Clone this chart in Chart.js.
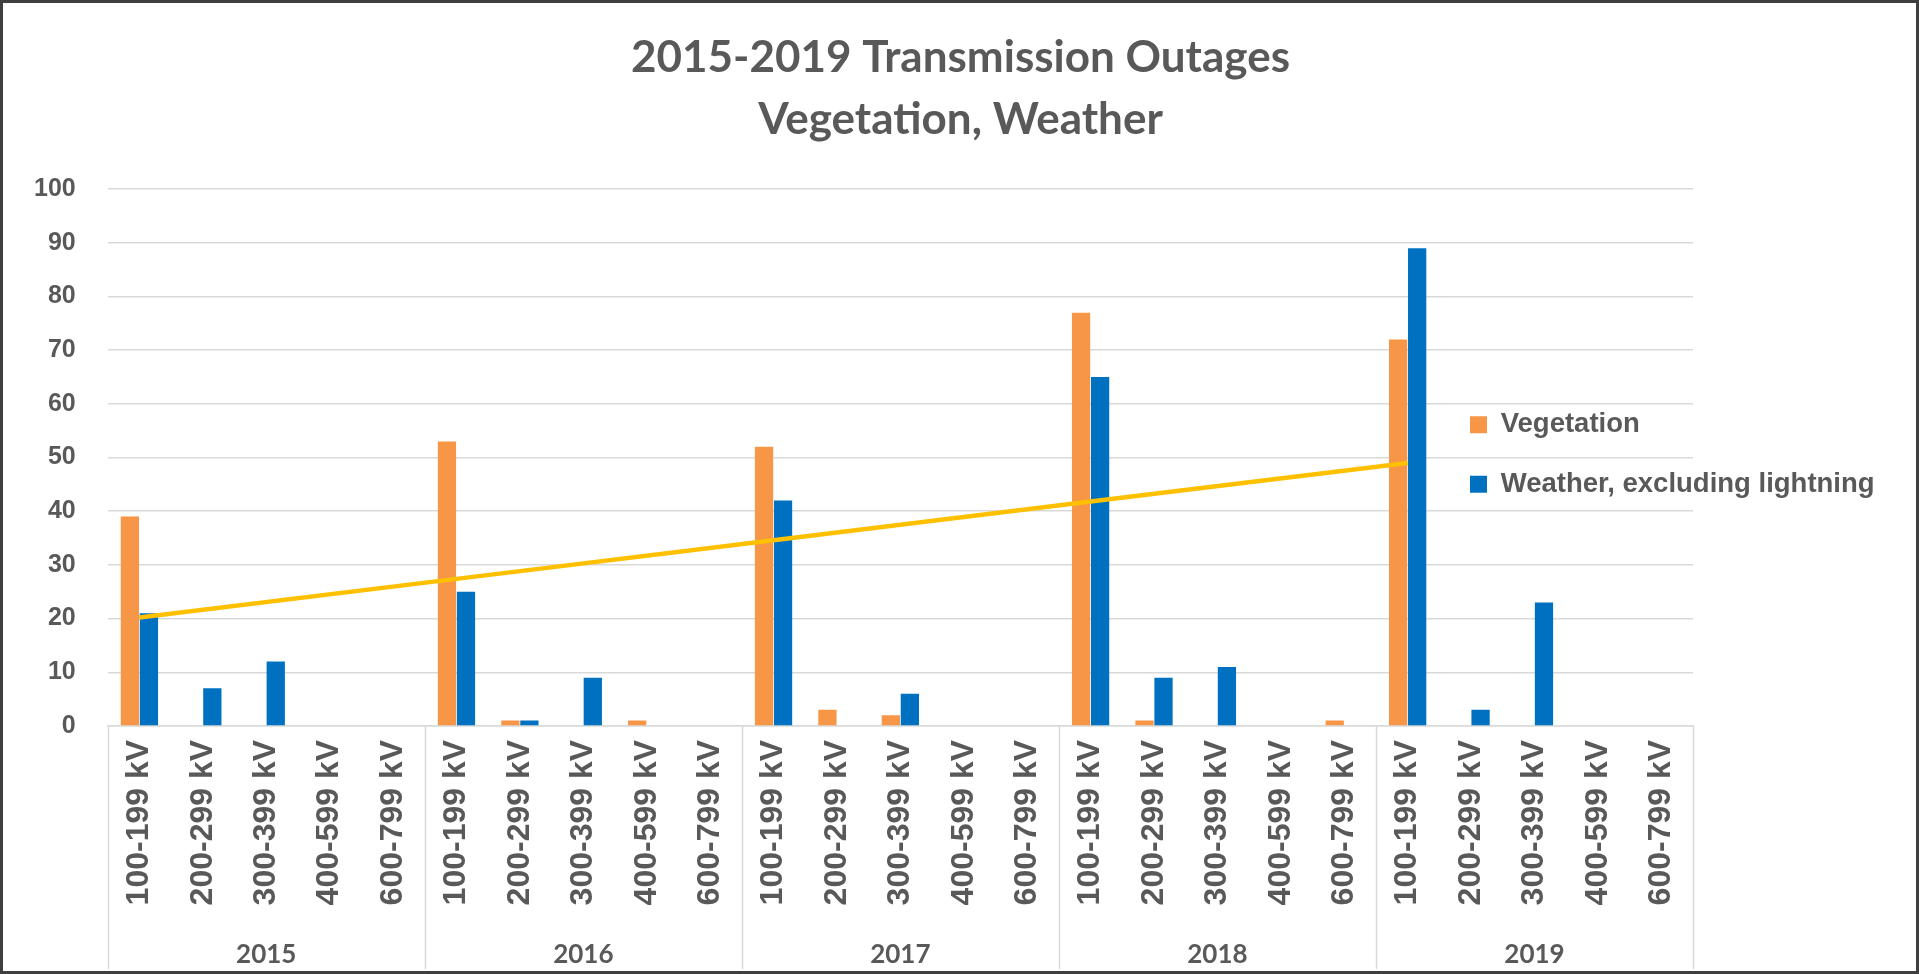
<!DOCTYPE html>
<html>
<head>
<meta charset="utf-8">
<title>2015-2019 Transmission Outages</title>
<script src="https://cdn.jsdelivr.net/npm/chart.js@4"></script>
<style>
  html, body { margin: 0; padding: 0; background: #fff; }
  #wrap { width: 1919px; height: 974px; position: relative; }
  #chartOutages { outline: 3px solid #3f3f3f; outline-offset: -3px; }
</style>
</head>
<body>
<div id="wrap"><canvas id="chartOutages"></canvas></div>
<script>
const years = ['2015', '2016', '2017', '2018', '2019']
const voltageBands = ['100-199 kV', '200-299 kV', '300-399 kV', '400-599 kV', '600-799 kV']

const vegetation = [39, 0, 0, 0, 0, 53, 1, 0, 1, 0, 52, 3, 2, 0, 0, 77, 1, 0, 0, 1, 72, 0, 0, 0, 0]
const weather = [21, 7, 12, 0, 0, 25, 1, 9, 0, 0, 42, 0, 6, 0, 0, 65, 9, 11, 0, 0, 89, 3, 23, 0, 0]
const trend = [20.2, null, null, null, null, 27.4, null, null, null, null, 34.6, null, null, null, null,
    41.8, null, null, null, null, 49.0, null, null, null, null]

const labels = years.flatMap(() => voltageBands)

const textGrey = '#595959'
const gridColor = '#d9d9d9'
const orange = '#F79646'
const blue = '#0070C0'
const gold = '#FFC000'

const ctx = document.getElementById('chartOutages')

// legend keeps its slot on the right but is drawn over the plot, like the Excel original
const legendInPlot = {
    id: 'legendInPlot',
    afterLayout(chart) {
        const lg = chart.legend
        const area = chart.chartArea
        lg.left = area.right - 223 - lg.options.labels.padding
        lg.width = 470
        lg.right = lg.left + lg.width
        lg.top = area.top - 3
        lg.bottom = area.bottom - 3
        lg.height = lg.bottom - lg.top
    }
}

// vertical lines between the year groups, through both label rows
const groupDividers = {
    id: 'groupDividers',
    afterDraw(chart) {
        const x = chart.scales.x
        const half = (x.getPixelForValue(1) - x.getPixelForValue(0)) / 2
        const c = chart.ctx
        c.save()
        c.strokeStyle = gridColor
        c.lineWidth = 1.5
        for (let i = 0; i <= labels.length; i += voltageBands.length) {
            const px = Math.round(x.getPixelForValue(i) - half) + 0.5
            c.beginPath()
            c.moveTo(px, x.top)
            c.lineTo(px, chart.height - 5)
            c.stroke()
        }
        c.restore()
    }
}

new Chart(ctx, {
    type: 'bar',
    data: {
        labels: labels,
        datasets: [
            {
                type: 'line',
                label: 'Trend',
                data: trend,
                borderColor: gold,
                borderWidth: 4.5,
                pointRadius: 0,
                spanGaps: true,
                tension: 0,
                order: 0
            },
            {
                label: 'Vegetation',
                data: vegetation,
                backgroundColor: orange,
                borderWidth: 0,
                barPercentage: 0.96,
                categoryPercentage: 0.6,
                order: 1
            },
            {
                label: 'Weather, excluding lightning',
                data: weather,
                backgroundColor: blue,
                borderWidth: 0,
                barPercentage: 0.96,
                categoryPercentage: 0.6,
                order: 1
            }
        ]
    },
    options: {
        responsive: true,
        maintainAspectRatio: false,
        animation: false,
        layout: {
            padding: { left: 2, right: 0, top: 0, bottom: 1.4 }
        },
        plugins: {
            title: {
                display: true,
                text: ['2015-2019 Transmission Outages', 'Vegetation, Weather'],
                color: textGrey,
                font: { family: 'Lato', size: 44, weight: 'bold', lineHeight: 1.4 },
                padding: { top: 27, bottom: 39 }
            },
            legend: {
                position: 'right',
                maxWidth: 226,
                labels: {
                    color: textGrey,
                    font: { family: 'Liberation Sans', size: 27.5, weight: 'bold' },
                    boxWidth: 17,
                    boxHeight: 17,
                    padding: 32,
                    filter: (item) => item.datasetIndex > 0
                }
            },
            tooltip: { enabled: false }
        },
        scales: {
            x: {
                offset: true,
                grid: { display: false, drawTicks: false },
                border: { color: gridColor, width: 1.5 },
                ticks: {
                    autoSkip: false,
                    minRotation: 90,
                    maxRotation: 90,
                    padding: 14,
                    color: textGrey,
                    font: { family: 'Liberation Sans', size: 32, weight: 'bold' }
                },
                afterFit: (scale) => { scale.height += 18 }
            },
            x2: {
                type: 'category',
                labels: years,
                position: 'bottom',
                offset: true,
                weight: 1,
                grid: { display: false, drawTicks: false },
                border: { display: false },
                ticks: {
                    padding: 2,
                    color: textGrey,
                    font: { family: 'Lato', size: 26, weight: 'bold' }
                }
            },
            y: {
                min: 0,
                max: 100,
                border: { display: false },
                grid: { drawTicks: false, color: gridColor, lineWidth: 1.5 },
                ticks: {
                    stepSize: 10,
                    padding: 32,
                    color: textGrey,
                    font: { family: 'Liberation Sans', size: 25, weight: 'bold' }
                }
            }
        }
    },
    plugins: [legendInPlot, groupDividers]
})
</script>
</body>
</html>
